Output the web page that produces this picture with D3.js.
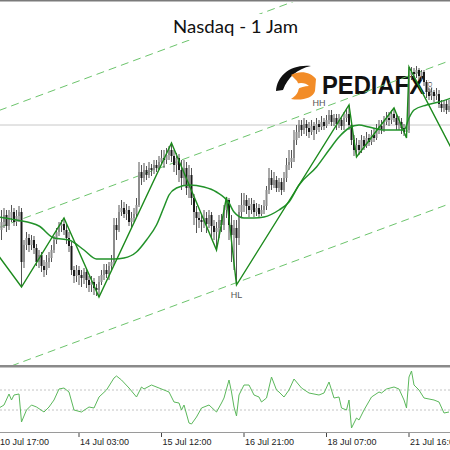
<!DOCTYPE html>
<html>
<head>
<meta charset="utf-8">
<script src="https://cdn.jsdelivr.net/npm/d3@7"></script>
<style>
body { margin: 0; background: #fff; }
svg { display: block; }
</style>
</head>
<body>
<div id="chart"></div>
<script>
// hourly candles, bar 1 .. 180 : [open, high, low, close]
const candles = [
  [10640,10680,10620,10656],[10656,10684,10644,10670],[10670,10680,10636,10648],[10648,10680,10640,10664],
  [10664,10690,10656,10676],[10676,10684,10648,10656],[10656,10680,10648,10668],[10668,10688,10656,10676],
  [10676,10684,10526,10576],[10576,10620,10564,10610],[10610,10636,10600,10624],[10624,10632,10596,10610],
  [10610,10630,10600,10620],[10620,10628,10592,10604],[10604,10612,10568,10576],[10576,10600,10564,10590],
  [10590,10596,10556,10568],[10568,10580,10546,10560],[10560,10590,10550,10576],[10576,10596,10564,10584],
  [10584,10610,10576,10600],[10600,10628,10594,10620],[10620,10644,10612,10636],[10636,10656,10628,10648],
  [10648,10660,10636,10652],[10652,10664,10630,10640],[10640,10652,10612,10624],[10624,10636,10596,10608],
  [10608,10616,10550,10560],[10560,10568,10534,10548],[10548,10570,10536,10560],[10560,10568,10530,10550],
  [10550,10560,10526,10544],[10544,10564,10532,10556],[10556,10564,10524,10540],[10540,10548,10516,10530],
  [10530,10548,10516,10536],[10536,10544,10510,10524],[10524,10532,10508,10520],[10520,10548,10506,10536],
  [10536,10560,10530,10550],[10550,10572,10540,10560],[10560,10572,10544,10552],[10552,10576,10540,10568],
  [10568,10590,10560,10576],[10576,10664,10570,10650],[10650,10664,10620,10640],[10640,10690,10636,10676],
  [10676,10700,10668,10684],[10684,10696,10664,10672],[10672,10692,10660,10680],[10680,10688,10648,10656],
  [10656,10676,10644,10664],[10664,10684,10656,10672],[10672,10704,10664,10690],[10690,10776,10686,10756],
  [10756,10770,10730,10744],[10744,10774,10736,10760],[10760,10768,10740,10750],[10750,10776,10744,10764],
  [10764,10772,10748,10760],[10760,10780,10752,10770],[10770,10780,10756,10764],[10764,10788,10760,10776],
  [10776,10800,10770,10784],[10784,10800,10764,10780],[10780,10804,10772,10790],[10790,10808,10780,10800],
  [10800,10814,10776,10788],[10788,10800,10756,10770],[10770,10794,10750,10784],[10784,10792,10736,10760],
  [10760,10780,10720,10744],[10744,10780,10730,10764],[10764,10776,10710,10724],[10724,10770,10704,10750],
  [10750,10764,10690,10704],[10704,10712,10650,10676],[10676,10688,10634,10664],[10664,10676,10644,10660],
  [10660,10672,10636,10656],[10656,10680,10644,10664],[10664,10676,10634,10652],[10652,10680,10644,10670],
  [10670,10676,10624,10648],[10648,10660,10620,10636],[10636,10656,10600,10644],[10644,10670,10624,10660],
  [10660,10672,10636,10650],[10650,10690,10640,10680],[10680,10706,10664,10700],[10700,10704,10620,10650],
  [10650,10670,10576,10630],[10630,10660,10560,10644],[10644,10660,10530,10624],[10624,10690,10610,10676],
  [10676,10714,10664,10690],[10690,10714,10676,10700],[10700,10710,10672,10688],[10688,10704,10666,10680],
  [10680,10704,10672,10692],[10692,10700,10666,10676],[10676,10694,10668,10684],[10684,10692,10664,10672],
  [10672,10690,10668,10680],[10680,10700,10672,10688],[10688,10728,10680,10720],[10720,10764,10712,10744],
  [10744,10760,10720,10730],[10730,10756,10724,10740],[10740,10748,10716,10724],[10724,10744,10716,10736],
  [10736,10744,10710,10720],[10720,10756,10716,10744],[10744,10784,10736,10770],[10770,10800,10760,10776],
  [10776,10800,10764,10784],[10784,10840,10776,10820],[10820,10850,10810,10836],[10836,10860,10824,10850],
  [10850,10860,10828,10840],[10840,10864,10832,10852],[10852,10860,10828,10844],[10844,10856,10824,10836],
  [10836,10860,10830,10848],[10848,10856,10820,10840],[10840,10864,10832,10852],[10852,10860,10836,10846],
  [10846,10868,10840,10856],[10856,10864,10840,10848],[10848,10870,10844,10860],[10860,10880,10852,10870],
  [10870,10880,10848,10856],[10856,10872,10848,10864],[10864,10872,10840,10852],[10852,10872,10844,10860],
  [10860,10868,10840,10848],[10848,10876,10840,10864],[10864,10884,10856,10872],[10872,10890,10840,10850],
  [10850,10856,10810,10820],[10820,10830,10788,10800],[10800,10824,10786,10810],[10810,10820,10790,10800],
  [10800,10830,10794,10820],[10820,10828,10800,10808],[10808,10836,10804,10824],[10824,10832,10808,10816],
  [10816,10840,10810,10830],[10830,10844,10816,10824],[10824,10852,10820,10840],[10840,10860,10832,10848],
  [10848,10860,10832,10840],[10840,10868,10836,10856],[10856,10876,10850,10864],[10864,10876,10848,10860],
  [10860,10880,10852,10872],[10872,10884,10856,10864],[10864,10872,10840,10850],[10850,10868,10840,10856],
  [10856,10864,10832,10844],[10844,10852,10828,10836],[10836,10850,10824,10840],[10840,10966,10834,10950],
  [10950,10966,10940,10956],[10956,10964,10944,10952],[10952,10968,10944,10960],[10960,10964,10940,10948],
  [10948,10960,10940,10956],[10956,10960,10928,10936],[10936,10940,10904,10916],[10916,10924,10900,10908],
  [10908,10924,10900,10916],[10916,10920,10896,10908],[10908,10924,10900,10912],[10912,10920,10884,10892],
  [10892,10900,10876,10884],[10884,10900,10876,10892],[10892,10900,10872,10880],[10880,10900,10876,10888]
];

// zigzag swing points
const zigzagBars = [-6, 9, 26, 40, 69, 87, 91, 95, 140, 143, 158, 163, 164, 189];
const zigzagPrices = [10628, 10526, 10664, 10506, 10814, 10600, 10706, 10530, 10890, 10786, 10884, 10824, 10966, 10726];

// moving average
const maBars = [0, 7, 16, 22, 28, 34, 39, 46, 50, 55, 59, 63, 66, 68, 71, 76, 82, 87, 92, 94, 98, 102, 106, 112, 116, 120, 127, 132, 136, 140, 144, 148, 154, 162, 164, 166, 171, 176, 181];
const maPrices = [10666, 10660, 10648, 10624, 10620, 10600, 10582, 10582, 10584, 10596, 10620, 10650, 10686, 10710, 10724, 10730, 10726, 10716, 10694, 10676, 10664, 10664, 10666, 10680, 10696, 10730, 10766, 10800, 10826, 10844, 10850, 10846, 10840, 10840, 10864, 10880, 10890, 10896, 10904];

// channel (dashed) lines, given at bar 0 and bar 180
const channelBars = [0, 180];
const channelUpper = [10879, 11212];
const channelMiddle = [10645, 10978];
const channelLower = [10359, 10692];
const levelPrice = 10850;

// oscillator
const oscBars = [0, 2, 4, 5, 6, 8, 9, 11, 13, 15, 18, 20, 22, 24, 26, 28, 30, 33, 36, 38, 40, 43, 46, 47, 49, 52, 55, 57, 58, 61, 64, 68, 70, 72, 73, 74, 76, 77, 79, 81, 84, 87, 89, 90, 92, 93, 94, 95, 96, 98, 100, 102, 104, 105, 107, 109, 111, 112, 114, 116, 118, 121, 124, 128, 130, 132, 133, 134, 136, 137, 139, 140, 141, 143, 144, 146, 149, 152, 153, 155, 158, 160, 162, 163, 164, 165, 166, 168, 170, 174, 176, 178, 180];
const oscValues = [-80, -50, 60, 0, 50, 60, -220, -100, -50, -70, -120, -70, 0, 110, 120, 80, -100, -120, -70, -80, 30, 100, 220, 240, 200, 120, 30, 130, 110, 150, 120, 80, -20, -30, -100, -50, -230, -240, -170, -80, -50, -120, -30, 20, 200, 80, -70, -160, 50, 150, 150, 50, 30, -20, 20, 230, 100, 80, 30, 100, 210, 120, 70, 50, 70, 180, 100, 20, 30, -80, -100, 0, -280, -180, -200, -100, 30, 80, 70, 110, 130, 110, 0, -80, 230, 290, 150, 100, 20, 0, -20, -130, -120];
const oscLevels = [100, -100];

// time axis
const tickBars = [0, 32, 65, 98, 131, 164];
const tickLabels = ["10 Jul 17:00", "14 Jul 03:00", "15 Jul 12:00", "16 Jul 21:00", "18 Jul 07:00", "21 Jul 16:00"];

// swing labels
const swingText = ["HH", "HL"];
const swingBars = [128, 95];
const swingPrices = [10888, 10504];

const title = "Nasdaq - 1 Jam";

let width = 450, height = 450;
let mainTop = 2, mainBottom = 365, oscTop = 367, oscBottom = 432;

let svg = d3.select('#chart').append('svg')
    .attr('width', width)
    .attr('height', height);

let x = d3.scaleLinear().domain([0, 180]).range([-1, 449]);
let y = d3.scaleLinear().domain([10370, 11100]).range([365, 0]);
let yOsc = d3.scaleLinear().domain([-320, 330]).range([oscBottom, oscTop]);

svg.append('defs').append('clipPath').attr('id', 'mainclip')
    .append('rect').attr('x', 0).attr('y', mainTop).attr('width', width).attr('height', mainBottom - mainTop);
svg.select('defs').append('clipPath').attr('id', 'oscclip')
    .append('rect').attr('x', 0).attr('y', oscTop).attr('width', width).attr('height', oscBottom - oscTop);

let main = svg.append('g').attr('clip-path', 'url(#mainclip)');

// horizontal level
main.append('line')
    .attr('x1', 0).attr('x2', width)
    .attr('y1', y(levelPrice)).attr('y2', y(levelPrice))
    .attr('stroke', '#c8c8c8').attr('stroke-width', 1);

// logo watermark
let logo = main.append('g');
logo.append('path')
    .attr('d', 'M276,91 C277,76 290,64 311,66 C297,69 288,77 283,90 Z')
    .attr('fill', '#111');
logo.append('path')
    .attr('d', 'M291,75 C300,70 311,72 316,79 L315,91 C313,98 302,101 291,99 C298,95 301,88 297,81 Z')
    .attr('fill', '#f28c28');
logo.append('path')
    .attr('d', 'M296,84 C301,82 306,83 309,86 C305,86 300,87 297,90 Z')
    .attr('fill', '#fff');
logo.append('text')
    .attr('x', 322).attr('y', 94)
    .attr('font-family', 'Liberation Sans, Arial, sans-serif')
    .attr('font-weight', 'bold')
    .attr('font-size', 25)
    .attr('textLength', 103).attr('lengthAdjust', 'spacingAndGlyphs')
    .attr('fill', '#111')
    .text('PEDIAFX');
logo.append('text')
    .attr('transform', 'translate(428,80) rotate(90)')
    .attr('font-family', 'Liberation Sans, Arial, sans-serif')
    .attr('font-size', 6)
    .attr('fill', '#444')
    .text('.COM');

// channel lines
let channels = [channelUpper, channelMiddle, channelLower];
main.selectAll('.channel')
    .data(channels)
    .enter()
    .append('line')
    .attr('class', 'channel')
    .attr('x1', x(channelBars[0])).attr('x2', x(channelBars[1]))
    .attr('y1', d => y(d[0])).attr('y2', d => y(d[1]))
    .attr('stroke', '#6cc46c').attr('stroke-width', 1)
    .attr('stroke-dasharray', '8,5');

// candles
let bars = main.selectAll('.candle')
    .data(candles)
    .enter()
    .append('g')
    .attr('class', 'candle');
bars.append('line')
    .attr('x1', (d, i) => x(i + 1)).attr('x2', (d, i) => x(i + 1))
    .attr('y1', d => y(d[1])).attr('y2', d => y(d[2]))
    .attr('stroke', '#555').attr('stroke-width', 1);
bars.append('rect')
    .attr('x', (d, i) => x(i + 1) - 1)
    .attr('width', 2)
    .attr('y', d => y(Math.max(d[0], d[3])))
    .attr('height', d => Math.max(1, Math.abs(y(d[0]) - y(d[3]))))
    .attr('fill', d => d[3] >= d[0] ? '#8c8c8c' : '#1a1a1a');

// moving average
let maLine = d3.line()
    .x((d, i) => x(maBars[i]))
    .y(d => y(d))
    .curve(d3.curveMonotoneX);
main.append('path')
    .attr('d', maLine(maPrices))
    .attr('fill', 'none')
    .attr('stroke', '#22922a').attr('stroke-width', 1.5);

// zigzag
let zzLine = d3.line()
    .x((d, i) => x(zigzagBars[i]))
    .y(d => y(d));
main.append('path')
    .attr('d', zzLine(zigzagPrices))
    .attr('fill', 'none')
    .attr('stroke', '#1c8a1c').attr('stroke-width', 1.4);

// swing labels
main.selectAll('.swing')
    .data(swingText)
    .enter()
    .append('text')
    .attr('x', (d, i) => x(swingBars[i]))
    .attr('y', (d, i) => y(swingPrices[i]))
    .attr('text-anchor', 'middle')
    .attr('font-family', 'Liberation Sans, Arial, sans-serif')
    .attr('font-size', 9)
    .attr('fill', '#555')
    .text(d => d);

// title
svg.append('rect')
    .attr('x', 168).attr('y', 14).attr('width', 136).attr('height', 26)
    .attr('fill', '#fff');
svg.append('text')
    .attr('x', 173).attr('y', 33)
    .attr('font-family', 'Lato, sans-serif')
    .attr('font-size', 17.5)
    .attr('textLength', 125).attr('lengthAdjust', 'spacingAndGlyphs')
    .attr('fill', '#111')
    .text(title);

// frame lines
svg.append('rect').attr('x', 0).attr('y', 0).attr('width', width).attr('height', 1.5).attr('fill', '#7a7a7a');
svg.append('rect').attr('x', 0).attr('y', 365).attr('width', width).attr('height', 2.5).attr('fill', '#8a8a8a');
svg.append('line')
    .attr('x1', 0).attr('x2', width)
    .attr('y1', oscBottom + 0.5).attr('y2', oscBottom + 0.5)
    .attr('stroke', '#9a9a9a').attr('stroke-width', 1);

// oscillator
let osc = svg.append('g').attr('clip-path', 'url(#oscclip)');
osc.selectAll('.lvl')
    .data(oscLevels)
    .enter()
    .append('line')
    .attr('x1', 0).attr('x2', width)
    .attr('y1', d => yOsc(d)).attr('y2', d => yOsc(d))
    .attr('stroke', '#c4c4c4').attr('stroke-width', 1)
    .attr('stroke-dasharray', '2,2');
let oscLine = d3.line()
    .x((d, i) => x(oscBars[i]))
    .y(d => yOsc(d));
osc.append('path')
    .attr('d', oscLine(oscValues))
    .attr('fill', 'none')
    .attr('stroke', '#5cb85c').attr('stroke-width', 1);

// time axis
let axis = svg.append('g');
axis.selectAll('.tick')
    .data(tickBars)
    .enter()
    .append('line')
    .attr('x1', d => x(d)).attr('x2', d => x(d))
    .attr('y1', oscBottom + 1).attr('y2', oscBottom + 5)
    .attr('stroke', '#444');
axis.selectAll('.lbl')
    .data(tickLabels)
    .enter()
    .append('text')
    .attr('x', (d, i) => x(tickBars[i]) + 1)
    .attr('y', 445)
    .attr('font-family', 'Liberation Sans, Arial, sans-serif')
    .attr('font-size', 9)
    .attr('fill', '#222')
    .text(d => d);
</script>
</body>
</html>
